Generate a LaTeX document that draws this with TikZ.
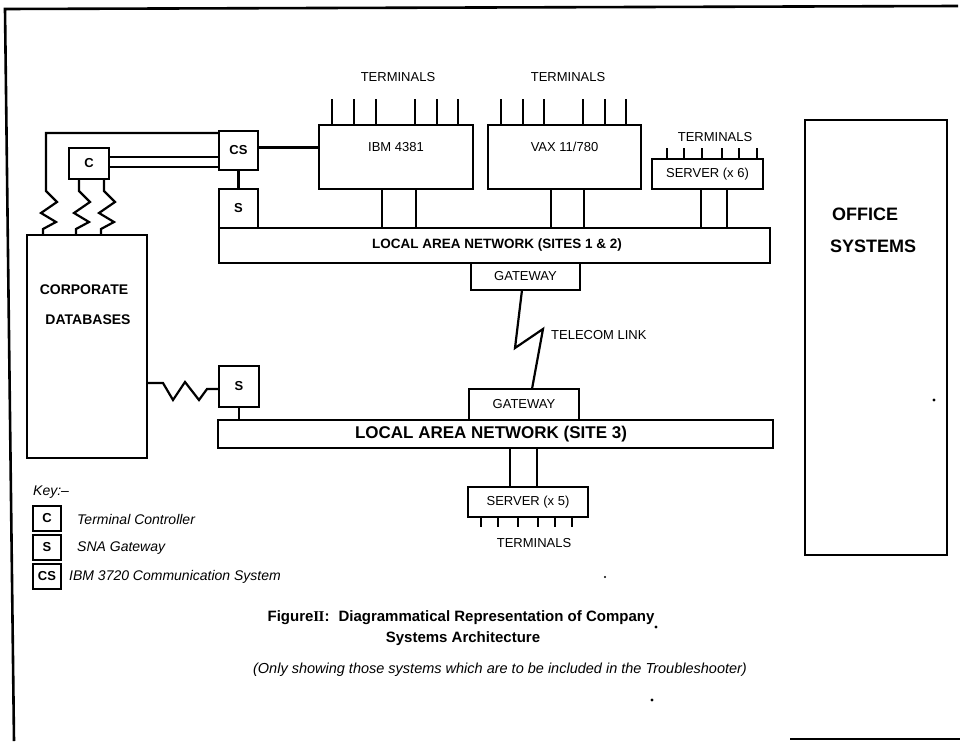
\documentclass[tikz,border=0pt]{standalone}
\usepackage{fontspec}
\setmainfont{Liberation Sans}
\newfontfamily\numeralfont{Liberation Serif}
\usetikzlibrary{calc}

\begin{document}
\begin{tikzpicture}[x=1pt,y=-1pt,
  line join=miter,
  box/.style={draw, line width=2.2pt, inner sep=0pt, outer sep=0pt},
  wire/.style={line width=2.2pt},
  txt/.style={inner sep=0pt, font=\fontsize{13}{15}\selectfont},
  btxt/.style={inner sep=0pt, font=\fontsize{13}{15}\selectfont\bfseries},
  bigtxt/.style={inner sep=0pt, anchor=west, font=\fontsize{18}{20}\selectfont\bfseries},
  dbtxt/.style={inner sep=0pt, font=\fontsize{14}{16}\selectfont\bfseries},
  keytxt/.style={inner sep=0pt, anchor=west, font=\fontsize{14}{16}\selectfont\itshape},
  captxt/.style={inner sep=0pt, font=\fontsize{15}{17}\selectfont\bfseries},
]
\useasboundingbox (0,0) rectangle (960,741);
\fill[white] (0,0) rectangle (960,741);

% page frame
\draw[line width=2.6pt] (958,6) -- (5,9) -- (14,741);
\draw[line width=2.2pt] (790,739) -- (960,739);

% ---- sites 1 & 2 ----
\node[box, minimum width=551pt, minimum height=35pt] (lan1) at (494.5,245.5) {};
\node[inner sep=0pt, font=\fontsize{13.5}{16}\selectfont\bfseries] (lan1txt) at (497,245.5)
  {LOCAL AREA NETWORK (SITES 1 \& 2)};

\node[box, minimum width=39pt, minimum height=39pt] (cs) at (238.5,150.5) {};
\node[btxt] (cstxt) at (cs) {CS};
\node[box, minimum width=39pt, minimum height=39pt] (s1) at (238.5,208.5) {};
\node[btxt] (s1txt) at (s1) {S};
\node[box, minimum width=40pt, minimum height=31pt] (c) at (89,163.5) {};
\node[btxt] (ctxt) at (c) {C};

\node[box, minimum width=154pt, minimum height=64pt] (ibm) at (396,157) {};
\node[txt] (ibmtxt) at (396,147) {IBM 4381};
\node[box, minimum width=153pt, minimum height=64pt] (vax) at (564.5,157) {};
\node[txt] (vaxtxt) at (564.5,147) {VAX 11/780};
\node[box, minimum width=111pt, minimum height=30pt] (srv6) at (707.5,174) {};
\node[txt] (srv6txt) at (srv6) {SERVER (x 6)};

\node[txt] (termibm) at (398,77) {TERMINALS};
\node[txt] (termvax) at (568,77) {TERMINALS};
\node[txt] (termsrv6) at (715,137) {TERMINALS};

% terminal lines
\foreach \x in {332,354,376,415,437,458}
  \draw[wire] (ibm.north -| \x,0) -- ++(0,-26);
\foreach \x in {501,523,544,583,605,626}
  \draw[wire] (vax.north -| \x,0) -- ++(0,-26);
\foreach \x in {667,684,702,722,739,757}
  \draw[wire] (srv6.north -| \x,0) -- ++(0,-11);

% hosts onto the LAN
\foreach \x in {382,416}
  \draw[wire] (ibm.south -| \x,0) -- (lan1.north -| \x,0);
\foreach \x in {551,584}
  \draw[wire] (vax.south -| \x,0) -- (lan1.north -| \x,0);
\foreach \x in {701,727}
  \draw[wire] (srv6.south -| \x,0) -- (lan1.north -| \x,0);

\draw[wire] (cs.south) -- (s1.north);
\draw[wire] ([yshift=3pt]cs.east) -- ([yshift=3pt]cs.east -| ibm.west);
\draw[wire] ([yshift=6.5pt]c.east) -- ([yshift=6.5pt]c.east -| cs.west);
\draw[wire] ([yshift=-3.5pt]c.east) -- ([yshift=-3.5pt]c.east -| cs.west);

% gateways and telecom link
\node[box, minimum width=109pt, minimum height=27pt] (gw1) at (525.5,276.5) {};
\node[txt] (gw1txt) at (gw1) {GATEWAY};
\node[box, minimum width=110pt, minimum height=31pt] (gw2) at (524,404.5) {};
\node[txt] (gw2txt) at (gw2) {GATEWAY};
\draw[wire] ([xshift=-3.5pt]gw1.south) -- (515,348) -- (543,329) -- ([xshift=8pt]gw2.north);
\node[txt, anchor=west] (telecom) at (551,335) {TELECOM LINK};

% ---- site 3 ----
\node[box, minimum width=555pt, minimum height=28pt] (lan3) at (495.5,434) {};
\node[inner sep=0pt, font=\fontsize{17}{19}\selectfont\bfseries] (lan3txt) at (491,434)
  {LOCAL AREA NETWORK (SITE 3)};
\node[box, minimum width=40pt, minimum height=41pt] (s2) at (239,386.5) {};
\node[btxt] (s2txt) at (s2) {S};
\draw[wire] (s2.south) -- (lan3.north -| s2.south);

\node[box, minimum width=120pt, minimum height=30pt] (srv5) at (528,502) {};
\node[txt] (srv5txt) at (srv5) {SERVER (x 5)};
\foreach \x in {510,537}
  \draw[wire] (lan3.south -| \x,0) -- (srv5.north -| \x,0);
\foreach \x in {481,498,518,538,555,572}
  \draw[wire] (srv5.south -| \x,0) -- ++(0,10);
\node[txt] (termsrv5) at (534,543) {TERMINALS};

% ---- corporate databases ----
\node[box, minimum width=120pt, minimum height=223pt] (db) at (87,346.5) {};
\node[dbtxt] (dbtxt1) at (84,290) {CORPORATE};
\node[dbtxt] (dbtxt2) at (88,320) {DATABASES};

% coiled links into the databases
\coordinate (k1) at (46,191);
\draw[wire] ([yshift=17.5pt]cs.west) -| (k1)
  -- ++(11,11) -- ++(-16,11) -- ++(15,9) -- ++(-13,7) -- (db.north -| 43,0);
\coordinate (k2) at (79,191);
\draw[wire] (c.south -| k2) -- (k2)
  -- ++(11,11) -- ++(-16,11) -- ++(15,9) -- ++(-13,7) -- (db.north -| 76,0);
\coordinate (k3) at (104,191);
\draw[wire] (c.south -| k3) -- (k3)
  -- ++(11,11) -- ++(-16,11) -- ++(15,9) -- ++(-13,7) -- (db.north -| 101,0);
\draw[wire] (db.east |- 0,383) -- (163,383) -- (173,400) -- (185,382)
  -- (199,400) -- (207,389) -- (s2.west |- 0,389);

% ---- office systems ----
\node[box, minimum width=142pt, minimum height=435pt] (office) at (876,337.5) {};
\node[bigtxt] (officetxt1) at (832,214) {OFFICE};
\node[bigtxt] (officetxt2) at (830,246) {SYSTEMS};

% ---- key ----
\node[keytxt] (key) at (33,492) {Key:--};
\node[box, minimum width=28pt, minimum height=25pt] (kc) at (47,518.5) {};
\node[btxt] (kctxt) at (kc) {C};
\node[keytxt] (kcl) at (77,519) {Terminal Controller};
\node[box, minimum width=28pt, minimum height=25pt] (ks) at (47,547.5) {};
\node[btxt] (kstxt) at (ks) {S};
\node[keytxt] (ksl) at (77,548) {SNA Gateway};
\node[box, minimum width=28pt, minimum height=25pt] (kcs) at (47,576.5) {};
\node[btxt] (kcstxt) at (kcs) {CS};
\node[keytxt] (kcsl) at (69,577) {IBM 3720 Communication System};

% ---- caption ----
\node[captxt] (cap1) at (461,618) {Figure{\numeralfont\bfseries I\kern-0.6ptI}:\hspace{9pt}Diagrammatical Representation of Company};
\node[captxt] (cap2) at (463,639) {Systems Architecture};
\node[inner sep=0pt, font=\fontsize{14.5}{17}\selectfont\itshape] (cap3) at (500,670)
  {(Only showing those systems which are to be included in the Troubleshooter)};

% specks
\fill (656,627) circle (1.6pt);
\fill (652,700) circle (1.6pt);
\fill (934,400) circle (1.6pt);
\fill (605,577) circle (1.2pt);
\end{tikzpicture}
\end{document}
